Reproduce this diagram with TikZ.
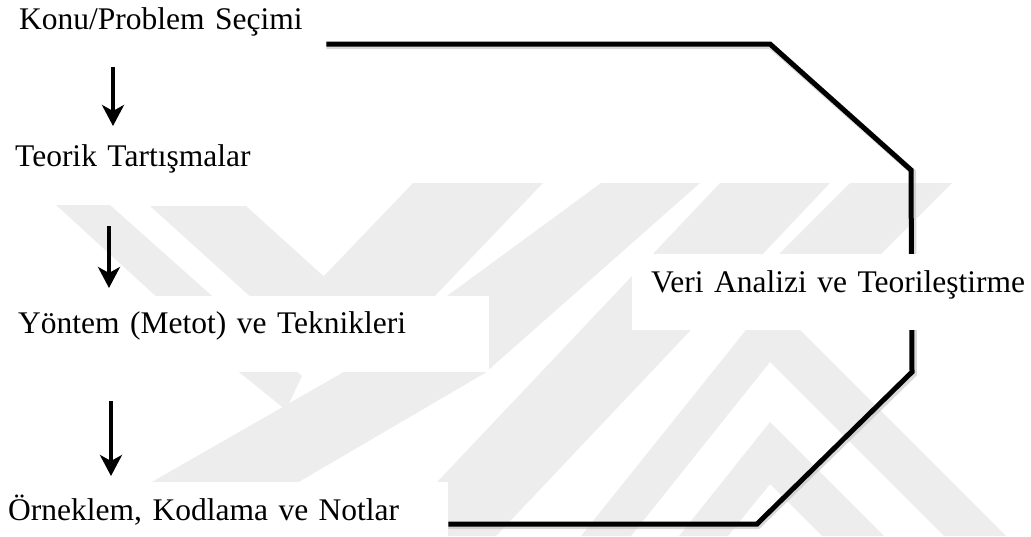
\documentclass[tikz,border=0pt]{standalone}
\usepackage{fontspec}
\setmainfont{Liberation Serif}
\usetikzlibrary{arrows.meta,backgrounds}
\begin{document}
\begin{tikzpicture}[x=1pt,y=-1pt,
  lbl/.style={anchor=base west,inner xsep=0pt,inner ysep=0pt,fill=white,align=left,
    font=\fontsize{31.5}{36}\selectfont},
  conn/.style={line width=5pt,black,line join=miter},
  shadowline/.style={line width=6pt,black!25,opacity=0.6,line join=miter},
  wmark/.style={fill=black!7},
  darrow/.style={line width=3.6pt,-{Stealth[length=21pt,width=22pt,inset=6pt]}}]
\useasboundingbox (0,0) rectangle (1031,536);
% nodes
\node[lbl,text width=326pt,text height=29pt,text depth=15pt] (konu) at (0,29) {\hspace*{19pt}Konu/Problem Seçimi};
\node[lbl,text width=270pt,text height=30pt,text depth=12pt] (teorik) at (0,166) {\hspace*{15pt}Teorik Tartışmalar};
\node[lbl,text width=489pt,text height=37pt,text depth=39pt] (yontem) at (0,333) {\hspace*{18pt}Yöntem (Metot) ve Teknikleri};
\node[lbl,text width=448pt,text height=38pt,text depth=46pt] (orneklem) at (0,520) {\hspace*{8pt}Örneklem, Kodlama ve Notlar};
\node[lbl,text width=420pt,text height=38pt,text depth=38pt] (veri) at (632,292) {\hspace*{19pt}Veri Analizi ve Teorileştirme};
% corner coordinates
\coordinate (c1) at (770,44);
\coordinate (c2) at (911,170);
\coordinate (c3) at (912,372);
\coordinate (c4) at (757,524);
\begin{scope}[on background layer]
  % faint watermark
  \fill[wmark] (56,205) -- (110,205) -- (302,376) -- (286,410) -- (240,373) -- cycle;
  \fill[wmark] (150,206) -- (246,206) -- (350,300) -- (254,300) -- cycle;
  \fill[wmark] (413,183) -- (543,183) -- (431,300) -- (301,300) -- cycle;
  \fill[wmark] (601,183) -- (700,183) -- (485,373) -- (297,483) -- (150,483) -- (342,373) -- cycle;
  \fill[wmark] (720,183) -- (830,183) -- (496,536) -- (386,536) -- cycle;
  \fill[wmark] (850,183) -- (952,183) -- (875,260) -- (773,260) -- cycle;
  \fill[wmark] (581,536) -- (770,300) -- (1006,536) -- (944,536) -- (770,362) -- (631,536) -- cycle;
  \fill[wmark] (679,536) -- (770,422) -- (884,536) -- (822,536) -- (770,484) -- (728,536) -- cycle;
  % connector
  \draw[shadowline] ([yshift=-2pt]konu.east |- c1) -- ([shift={(1,2)}]c1) -- ([shift={(2,2)}]c2) -- ([shift={(2,2)}]c3) -- ([shift={(1,2)}]c4) -- ([yshift=-2pt]orneklem.east |- c4);
  \draw[conn] (konu.east |- c1) -- (c1) -- (c2) -- (c3) -- (c4) -- (orneklem.east |- c4);
\end{scope}
% arrows
\coordinate (a1s) at (113,67);  \coordinate (a1e) at (113,126);
\coordinate (a2s) at (109,226); \coordinate (a2e) at (109,288);
\coordinate (a3s) at (111,401); \coordinate (a3e) at (111,476);
\draw[darrow] (a1s) -- (a1e);
\draw[darrow] (a2s) -- (a2e);
\draw[darrow] (a3s) -- (a3e);
\end{tikzpicture}
\end{document}
